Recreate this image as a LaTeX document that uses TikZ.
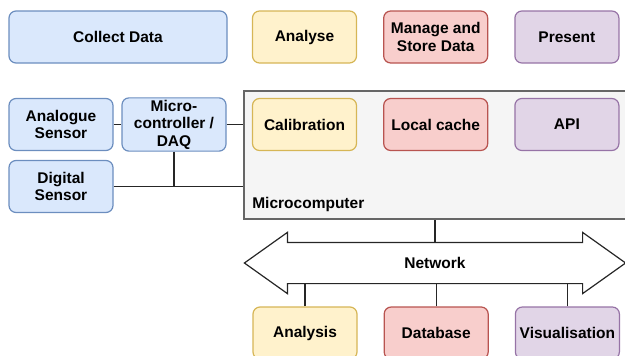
\documentclass[tikz,border=0pt]{standalone}
\usepackage{fontspec}
\setmainfont{Liberation Sans}
\usetikzlibrary{positioning,calc}
\definecolor{bluefill}{HTML}{DAE8FC}
\definecolor{blueline}{HTML}{6C8EBF}
\definecolor{yellowfill}{HTML}{FFF2CC}
\definecolor{yellowline}{HTML}{D6B656}
\definecolor{redfill}{HTML}{F8CECC}
\definecolor{redline}{HTML}{B85450}
\definecolor{purplefill}{HTML}{E1D5E7}
\definecolor{purpleline}{HTML}{9673A6}
\definecolor{greyfill}{HTML}{F5F5F5}
\definecolor{greyline}{HTML}{666666}

\begin{document}
\begin{tikzpicture}[x=1pt, y=-1pt, node distance=26pt, line width=1.2pt]  % y grows downward
  \tikzstyle{txt}=[font=\bfseries\fontsize{15.5}{17.5}\selectfont]
  \tikzstyle{box}=[txt, draw, rounded corners=7pt, minimum width=104pt, minimum height=52pt, inner sep=2pt, align=center]
  \tikzstyle{collect}=[box, fill=bluefill, draw=blueline]
  \tikzstyle{analyse}=[box, fill=yellowfill, draw=yellowline]
  \tikzstyle{store}=[box, fill=redfill, draw=redline]
  \tikzstyle{present}=[box, fill=purplefill, draw=purpleline]
  \tikzstyle{wire}=[draw=black!85]
  \useasboundingbox (0,0) rectangle (625,356);
  \clip (0,0) rectangle (625,356);

  % stages
  \node[collect, minimum width=218pt] (CD) at (118,37) {Collect Data};
  \node[analyse]  (AN)                at (304.5,37)   {Analyse};
  \node[store]    (MS) [right=of AN]                  {Manage and\\Store Data};
  \node[present]  (PR) [right=of MS]                  {Present};

  % microcomputer
  \node[draw=greyline, fill=greyfill, minimum width=386pt, minimum height=128pt] (MC) at (437,155) {};
  \node[txt, anchor=base west] (MCL) at ($(MC.south west)+(5,-11)$) {Microcomputer};
  \node[analyse]  (CA)                at (304.5,124.5) {Calibration};
  \node[store]    (LC) [right=of CA]                  {Local cache};
  \node[present]  (API) [right=of LC]                 {API};

  % sensors
  \node[collect]  (AS)  at (61,124.5)  {Analogue\\Sensor};
  \node[collect]  (DAQ) at (174,124.5) {Micro-\\controller /\\DAQ};
  \node[collect]  (DS)  at (61,186.5)  {Digital\\Sensor};

  % network
  \node[txt, inner sep=0pt, minimum width=294pt, minimum height=40pt] (NET) at (435,263) {Network};
  \draw[wire] (NET.north west) -- ++(0,-10) -- ($(NET.west)+(-43,0)$) -- ($(NET.south west)+(0,10)$)
        -- (NET.south west) -- (NET.south east) -- ++(0,10) -- ($(NET.east)+(43,0)$)
        -- ($(NET.north east)+(0,-10)$) -- (NET.north east) -- cycle;

  \node[analyse]  (AY)                at (305,333)    {Analysis};
  \node[store]    (DB) [right=of AY]                  {Database};
  \node[present]  (VI) [right=of DB]                  {Visualisation};

  \draw[wire] (AS) -- (DAQ);
  \draw[wire] (DAQ.east) -- (DAQ.east -| MC.west);
  \draw[wire] (DS.east) -- (DS.east -| MC.west);
  \draw[wire] (DAQ) -- (DAQ |- DS.east);
  \draw[wire] (NET.north) -- (NET.north |- MC.south);
  \draw[wire] (AY) -- (AY |- NET.south);
  \draw[wire] (DB) -- (DB |- NET.south);
  \draw[wire] (VI) -- (VI |- NET.south);
\end{tikzpicture}
\end{document}
